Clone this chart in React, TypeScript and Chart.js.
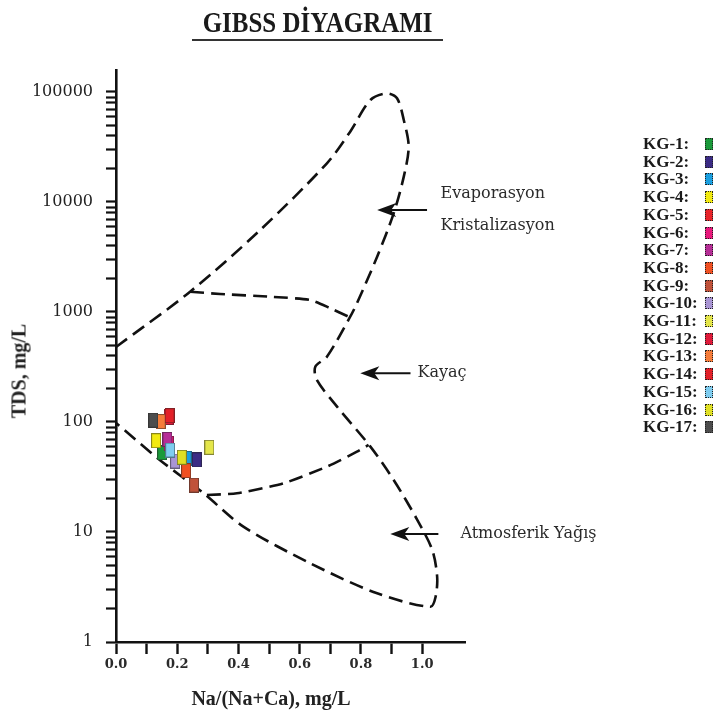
import React, { useEffect, useRef } from "react";
import { Chart, registerables } from "chart.js";

Chart.register(...registerables);

// ---------- data ----------
const sampleNames = [
  "KG-1", "KG-2", "KG-3", "KG-4", "KG-5", "KG-6", "KG-7", "KG-8", "KG-9",
  "KG-10", "KG-11", "KG-12", "KG-13", "KG-14", "KG-15", "KG-16", "KG-17",
];
const sampleColors = [
  "#1a9a3a", "#3b2b85", "#1a9fe0", "#f2ea10", "#e8232a", "#e8187c", "#b62d96",
  "#f05022", "#c0523a", "#a995d4", "#e4e64a", "#e01a3a", "#f57c3a", "#e32028",
  "#7fcdf0", "#e0e024", "#4d4d4d",
];
// Na/(Na+Ca)
const naRatio = [
  0.151, 0.264, 0.231, 0.131, 0.174, 0.172, 0.168, 0.229, 0.255,
  0.193, 0.305, 0.172, 0.146, 0.175, 0.177, 0.215, 0.122,
];
// TDS, mg/L
const tdsValues = [
  52.6, 45.2, 46.8, 67.6, 112, 64, 69.6, 36.1, 26.7,
  44.2, 58.9, 110, 101, 114, 55.6, 47.8, 104,
];

// Gibbs boundary: outer envelope
const outerX = [
  0, 0.242, 0.471, 0.689, 0.765, 0.831, 0.885, 0.918, 0.94, 0.956, 0.94, 0.907,
  0.853, 0.787, 0.765, 0.689, 0.651, 0.656, 0.722, 0.831, 0.907, 0.984, 1.033,
  1.049, 1.044, 1.027, 0.853, 0.635, 0.416, 0.286, 0.144, 0,
];
const outerTds = [
  480, 1530, 5560, 22500, 43600, 84600, 97300, 87700, 55700, 31800, 17000, 7890,
  3184, 1199, 906, 392, 318, 241, 138, 59.7, 29.7, 12.9, 6.86,
  3.93, 2.58, 2.09, 2.77, 5.19, 11.2, 22.5, 45, 98,
];
// upper inner boundary (evaporation / rock)
const upperX = [0.242, 0.34, 0.504, 0.635, 0.7, 0.76];
const upperTds = [1530, 1458, 1377, 1285, 1082, 906];
// lower inner boundary (rock / precipitation)
const lowerX = [0.297, 0.395, 0.547, 0.689, 0.787, 0.825];
const lowerTds = [21.7, 22.5, 27.7, 39.3, 53.7, 61.8];

// ticks
const xTickValues = [0, 0.1, 0.2, 0.3, 0.4, 0.5, 0.6, 0.7, 0.8, 0.9, 1.0];
const xTickLabels = ["0.0", "", "0.2", "", "0.4", "", "0.6", "", "0.8", "", "1.0"];
const yTickLabels = ["1", "10", "100", "1000", "10000", "100000"];

// annotations (arrows + text), in data coordinates
const notes = [
  { lines: ["Evaporasyon", "Kristalizasyon"], tipX: 0.853, tailX: 1.016, textX: 1.06, tds: 8460 },
  { lines: ["Kayaç"], tipX: 0.798, tailX: 0.962, textX: 0.985, tds: 277 },
  { lines: ["Atmosferik Yağış"], tipX: 0.896, tailX: 1.053, textX: 1.125, tds: 9.6 },
];

const W = 719;
const H = 716;

function makeMarker(color: string, w: number, h: number) {
  const c = document.createElement("canvas");
  c.width = w;
  c.height = h;
  const g = c.getContext("2d")!;
  g.fillStyle = color;
  g.fillRect(0, 0, w, h);
  g.strokeStyle = "#222";
  g.lineWidth = 1;
  g.setLineDash([1, 1]);
  g.strokeRect(0.5, 0.5, w - 1, h - 1);
  return c;
}

const notesPlugin = {
  id: "gibbsNotes",
  afterDatasetsDraw(chart: any) {
    const { ctx, scales } = chart;
    const xs = scales.x;
    const ys = scales.y;
    ctx.save();
    notes.forEach((n) => {
      const tip = xs.getPixelForValue(n.tipX);
      const tail = xs.getPixelForValue(n.tailX);
      const py = ys.getPixelForValue(n.tds);
      ctx.strokeStyle = "#111";
      ctx.fillStyle = "#111";
      ctx.lineWidth = 2;
      ctx.setLineDash([]);
      ctx.beginPath();
      ctx.moveTo(tail, py);
      ctx.lineTo(tip + 12, py);
      ctx.stroke();
      ctx.beginPath();
      ctx.moveTo(tip, py);
      ctx.lineTo(tip + 19, py - 7);
      ctx.lineTo(tip + 14, py);
      ctx.lineTo(tip + 19, py + 7);
      ctx.closePath();
      ctx.fill();
      ctx.font = '16px "DejaVu Serif"';
      ctx.fillStyle = "#2a2a2a";
      ctx.textBaseline = "middle";
      ctx.textAlign = "left";
      const tx = xs.getPixelForValue(n.textX);
      n.lines.forEach((t, i) => {
        ctx.fillText(t, tx, py + (i - (n.lines.length - 1) / 2) * 32);
      });
    });
    ctx.restore();
  },
};

export default function App() {
  const ref = useRef<HTMLCanvasElement | null>(null);

  useEffect(() => {
    if (!ref.current) return;
    const yTickValues: number[] = [];
    for (let e = 0; e < 5; e++) {
      for (let m = 1; m < 10; m++) yTickValues.push(m * Math.pow(10, e));
    }
    yTickValues.push(100000);

    const lineStyle = {
      showLine: true,
      pointRadius: 0,
      borderColor: "#111",
      borderWidth: 2.6,
      borderDash: [14, 7],
      tension: 0.3,
      fill: false,
      order: 200,
    };

    const datasets: any[] = [
      { ...lineStyle, label: "outer", data: outerX.map((x, i) => ({ x, y: outerTds[i] })) },
      { ...lineStyle, label: "upper", tension: 0.2, data: upperX.map((x, i) => ({ x, y: upperTds[i] })) },
      { ...lineStyle, label: "lower", tension: 0.2, data: lowerX.map((x, i) => ({ x, y: lowerTds[i] })) },
    ];
    sampleNames.forEach((name, i) => {
      datasets.push({
        label: name,
        data: [{ x: naRatio[i], y: tdsValues[i] }],
        showLine: false,
        pointStyle: makeMarker(sampleColors[i], 10, 15),
        pointRadius: 6,
        backgroundColor: sampleColors[i],
        order: 100 - i,
      });
    });

    const chart = new Chart(ref.current, {
      type: "scatter",
      data: { datasets },
      plugins: [notesPlugin],
      options: {
        animation: false,
        responsive: false,
        events: [],
        layout: { padding: { top: 70, right: W - 465, left: 0, bottom: 0 } },
        plugins: {
          legend: { display: false },
          tooltip: { enabled: false },
          title: { display: false },
        },
        scales: {
          x: {
            type: "linear",
            position: "bottom",
            min: 0,
            max: 1.14,
            afterBuildTicks: (s: any) => {
              s.ticks = xTickValues.map((v) => ({ value: v }));
            },
            afterFit: (s: any) => {
              s.height = H - 642;
            },
            border: { display: true, color: "#111", width: 2.6 },
            grid: {
              display: true,
              drawOnChartArea: false,
              drawTicks: true,
              tickLength: 12,
              tickColor: "#111",
              tickWidth: 2.4,
            },
            ticks: {
              autoSkip: false,
              maxRotation: 0,
              padding: 3,
              color: "#2a2a2a",
              font: { family: "DejaVu Serif", size: 13, weight: "bold" },
              callback: (_v: any, i: number) => xTickLabels[i],
            },
          },
          y: {
            type: "logarithmic",
            position: "left",
            min: 1,
            max: 158489,
            afterBuildTicks: (s: any) => {
              s.ticks = yTickValues.map((v) => ({ value: v }));
            },
            afterFit: (s: any) => {
              s.width = 116;
            },
            border: { display: true, color: "#111", width: 2.6 },
            grid: {
              display: true,
              drawOnChartArea: false,
              drawTicks: true,
              tickLength: 10,
              tickColor: "#111",
              tickWidth: 2.2,
            },
            ticks: {
              autoSkip: false,
              padding: 13,
              color: "#222",
              font: { family: "DejaVu Serif", size: 16 },
              callback: (v: any) => (yTickLabels.includes(String(v)) ? String(v) : ""),
            },
          },
        },
      },
    } as any);
    return () => chart.destroy();
  }, []);

  const serif = '"Liberation Serif", "DejaVu Serif", serif';

  return (
    <div
      style={{
        position: "fixed",
        left: 0,
        top: 0,
        width: W,
        height: H,
        background: "#fff",
        overflow: "hidden",
      }}
    >
      <canvas ref={ref} width={W} height={H} style={{ position: "absolute", left: 0, top: 0, width: W, height: H }} />
      <div
        style={{
          position: "absolute",
          left: 192,
          top: 6,
          width: 251,
          height: 33,
          display: "flex",
          justifyContent: "center",
          borderBottom: "2px solid #333",
          fontFamily: serif,
          fontWeight: "bold",
          fontSize: 29,
          lineHeight: "33px",
          color: "#1a1a1a",
          whiteSpace: "nowrap",
        }}
      >
        <span style={{ display: "inline-block", flexShrink: 0, transform: "scaleX(0.86)" }}>GIBSS DİYAGRAMI</span>
      </div>
      <div
        style={{
          position: "absolute",
          left: 19,
          top: 371,
          transform: "translate(-50%, -50%) rotate(-90deg)",
          fontFamily: serif,
          fontWeight: "bold",
          fontSize: 20,
          color: "#222",
          whiteSpace: "nowrap",
        }}
      >
        TDS, mg/L
      </div>
      <div
        style={{
          position: "absolute",
          left: 271,
          top: 698,
          transform: "translate(-50%, -50%)",
          fontFamily: serif,
          fontWeight: "bold",
          fontSize: 20,
          color: "#222",
          whiteSpace: "nowrap",
        }}
      >
        Na/(Na+Ca), mg/L
      </div>
      {sampleNames.map((name, i) => {
        const cy = 144 + i * 17.7;
        return (
          <React.Fragment key={name}>
            <div
              style={{
                position: "absolute",
                left: 643,
                top: cy - 10,
                height: 20,
                lineHeight: "20px",
                fontFamily: serif,
                fontWeight: "bold",
                fontSize: 17,
                color: "#1a1a1a",
                whiteSpace: "nowrap",
              }}
            >
              {name}:
            </div>
            <div
              style={{
                position: "absolute",
                left: 705,
                top: cy - 6,
                width: 8,
                height: 12,
                boxSizing: "border-box",
                border: "1px dotted #222",
                background: sampleColors[i],
              }}
            />
          </React.Fragment>
        );
      })}
    </div>
  );
}
